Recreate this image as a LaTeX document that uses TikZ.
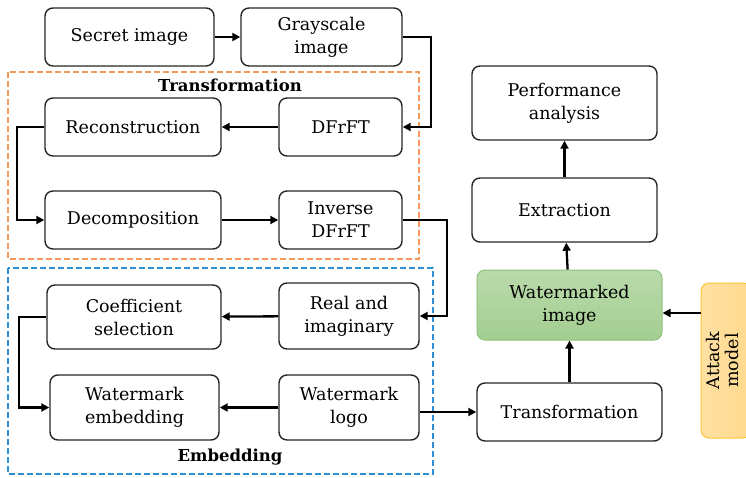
\documentclass[tikz,border=0pt]{standalone}
\usepackage{fontspec}
\setmainfont{DejaVu Serif}
\usetikzlibrary{arrows.meta,positioning,calc}
\definecolor{orangedash}{HTML}{F29A5C}
\definecolor{bluedash}{HTML}{2F8FD6}
\definecolor{greenfill}{HTML}{A3CE90}
\definecolor{greenborder}{HTML}{8CC27A}
\definecolor{yellowfill}{HTML}{FFD98C}
\definecolor{yellowborder}{HTML}{FFC533}
\begin{document}
\begin{tikzpicture}[x=1pt,y=-1pt,
  every node/.style={font=\fontsize{17.5}{23}\selectfont},
  blk/.style={draw=black!85, line width=1.4pt, rounded corners=8pt, align=center, inner sep=0pt},
  conn/.style={line width=2.3pt, -{Triangle[length=8pt,width=8pt]}},
  grp/.style={dashed, line width=1.4pt, dash pattern=on 6pt off 3pt},
  lbl/.style={font=\fontsize{16.5}{20}\selectfont\bfseries}]
\useasboundingbox (0,0) rectangle (746,478);
% group frames
\draw[grp, orangedash] (8,72) rectangle (419,259);
\draw[grp, bluedash] (8,268) rectangle (433,474);
\node[lbl] (tlbl) at (230,85) {Transformation};
\node[lbl] (elbl) at (230,457) {Embedding};
% blocks
\node[blk, minimum width=169pt, minimum height=58pt] (secret) at (129.5,37) {Secret image};
\node[blk, minimum width=161pt, minimum height=58pt] (gray) at (321.5,37) {Grayscale\\image};
\node[blk, minimum width=176pt, minimum height=58pt] (recon) at (133,127) {Reconstruction};
\node[blk, minimum width=123pt, minimum height=58pt] (dfrft) at (340.5,127) {DFrFT};
\node[blk, minimum width=176pt, minimum height=58pt] (decomp) at (133,220) {Decomposition};
\node[blk, minimum width=123pt, minimum height=58pt] (idfrft) at (340.5,220) {Inverse\\DFrFT};
\node[blk, minimum width=174pt, minimum height=64pt] (coef) at (134,317) {Coefficient\\selection};
\node[blk, minimum width=140pt, minimum height=66pt] (real) at (349,316) {Real and\\imaginary};
\node[blk, minimum width=169pt, minimum height=65pt] (wemb) at (134.5,407.5) {Watermark\\embedding};
\node[blk, minimum width=140pt, minimum height=65pt] (logo) at (349,407.5) {Watermark\\logo};
\node[blk, minimum width=185pt, minimum height=74pt] (perf) at (564.5,103) {Performance\\analysis};
\node[blk, minimum width=185pt, minimum height=64pt] (extr) at (564.5,210) {Extraction};
\node[blk, draw=greenborder, top color=greenfill!75!white, bottom color=greenfill, line width=1pt, minimum width=185pt, minimum height=70pt] (wimg) at (569.5,305) {Watermarked\\image};
\node[blk, draw=yellowborder, left color=yellowfill!80!white, right color=yellowfill, line width=1pt, minimum width=155pt, minimum height=50pt, rotate=90] (attack) at (726,360.5) {};
\node[font=\fontsize{17.5}{19}\selectfont, align=center, rotate=90, inner sep=0pt] (attacktxt) at (722,360.5) {Attack\\model};
\node[blk, minimum width=185pt, minimum height=58pt] (trans) at (569.5,412) {Transformation};
% connectors
\draw[conn] (secret) -- (gray);
\draw[conn] (gray.east) -- ++(28,0) |- (dfrft.east);
\draw[conn] (dfrft) -- (recon);
\draw[conn] (recon.west) -- ++(-27,0) |- (decomp.west);
\draw[conn] (decomp) -- (idfrft);
\draw[conn] (idfrft.east) -- ++(44,0) |- (real.east);
\draw[conn] (real) -- (coef);
\draw[conn] (coef.west) -- ++(-27,0) |- (wemb.west);
\draw[conn] (logo) -- (wemb);
\draw[conn] (logo.east |- trans.west) -- (trans.west);
\draw[conn] (trans) -- (wimg);
\draw[conn] (wimg) -- (extr);
\draw[conn] (extr) -- (perf);
\draw[conn] (attack.north |- 0,313) -- (wimg.east |- 0,313);
\end{tikzpicture}
\end{document}
